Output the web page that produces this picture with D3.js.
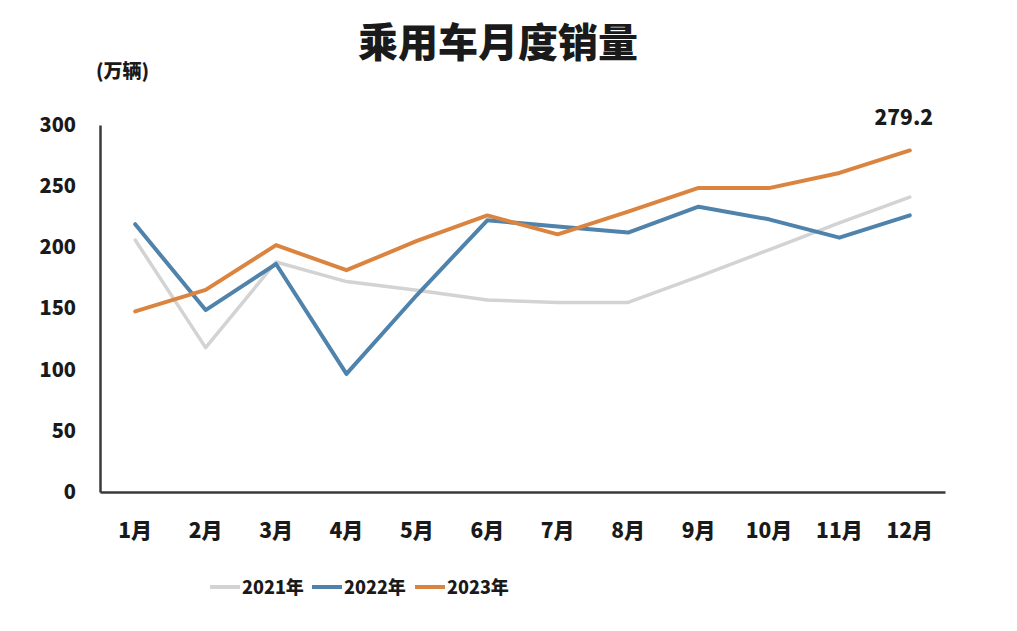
<!DOCTYPE html>
<html><head><meta charset="utf-8">
<script src="https://cdn.jsdelivr.net/npm/d3@7"></script>
<style>
html,body{margin:0;padding:0;background:#fff;}
svg{display:block;font-family:"Noto Sans CJK SC","Noto Sans",sans-serif;}
</style></head>
<body>
<svg id="chart" width="1017" height="631"></svg>
<script>
const months = ["1月","2月","3月","4月","5月","6月","7月","8月","9月","10月","11月","12月"];
const yTicks = [0,50,100,150,200,250,300];
const seriesNames = ["2021年","2022年","2023年"];
const values2021 = [206,118,188,172,165,157,155,155,176,198,220,241];
const values2022 = [218.9,148.7,186.4,96.5,161.0,222.1,217.0,212.1,233.2,222.9,207.9,226.2];
const values2023 = [147.6,165.2,201.8,181.3,205.2,226.1,210.6,229.2,248.6,248.4,260.8,279.2];
const colors = ["#d3d3d3","#4f83ab","#db843f"];
const endLabel = "279.2";

const svg = d3.select("#chart");
const x = d3.scaleBand().domain(months).range([100,945]);
const y = d3.scaleLinear().domain([0,300]).range([492,125]);

svg.append("text").attr("x",498).attr("y",57).attr("text-anchor","middle")
  .attr("font-size",40).attr("font-weight",900).attr("fill","#1a1a1a").text("乘用车月度销量");
svg.append("text").attr("x",96).attr("y",78)
  .attr("font-size",19).attr("font-weight",900).attr("fill","#1a1a1a").text("(万辆)");

// y axis
const yAxis = svg.append("g").attr("transform","translate(100,0)")
  .call(d3.axisLeft(y).tickValues(yTicks).tickSize(0).tickPadding(24));
yAxis.select(".domain").attr("stroke","#3a3a3a").attr("stroke-width",2.5);
yAxis.selectAll("text").attr("font-size",20).attr("font-weight",900).attr("fill","#1a1a1a")
  .attr("font-family","'Noto Sans CJK SC',sans-serif");

// x axis
const xAxis = svg.append("g").attr("transform","translate(0,492)")
  .call(d3.axisBottom(x).tickSize(0).tickPadding(31));
xAxis.select(".domain").attr("stroke","#3a3a3a").attr("stroke-width",2.5);
xAxis.selectAll("text").attr("font-size",21).attr("font-weight",900).attr("fill","#1a1a1a")
  .attr("font-family","'Noto Sans CJK SC',sans-serif");

const line = d3.line().x((d,i)=>x(months[i])+x.bandwidth()/2).y(d=>y(d));
const all = [values2021, values2022, values2023];
all.forEach((vals,k)=>{
  svg.append("path").datum(vals).attr("d",line).attr("fill","none")
    .attr("stroke",colors[k]).attr("stroke-width",k===0?3.5:4).attr("stroke-linejoin","round").attr("stroke-linecap","round");
});

svg.append("text").attr("x",x(months[11])+x.bandwidth()/2-6).attr("y",y(values2023[11])-25)
  .attr("text-anchor","middle").attr("font-size",21).attr("font-weight",900).attr("fill","#1a1a1a").text(endLabel);

// legend
const legX = [210,312,415];
seriesNames.forEach((n,k)=>{
  svg.append("line").attr("x1",legX[k]).attr("x2",legX[k]+30).attr("y1",587).attr("y2",587)
    .attr("stroke",colors[k]).attr("stroke-width",4);
  svg.append("text").attr("x",legX[k]+32).attr("y",594).attr("font-size",18).attr("font-weight",900)
    .attr("fill","#1a1a1a").text(n);
});
</script>
</body></html>
